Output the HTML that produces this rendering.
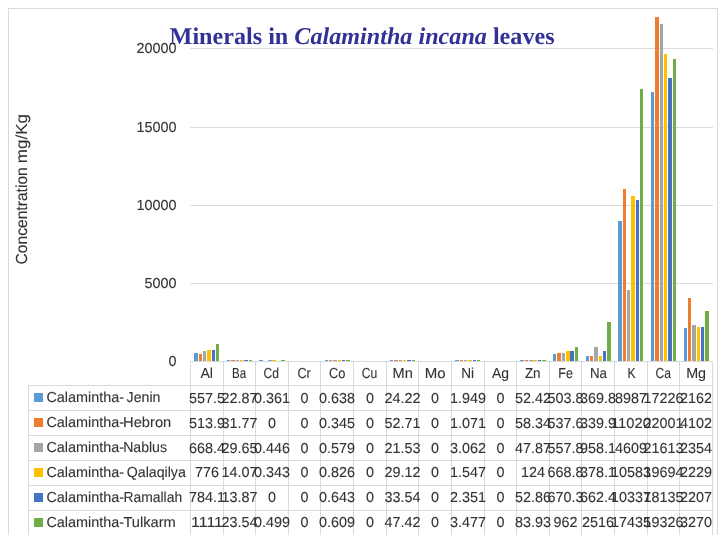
<!DOCTYPE html>
<html><head><meta charset="utf-8"><title>Minerals in Calamintha incana leaves</title>
<style>html,body{margin:0;padding:0;background:#fff;}body{width:725px;height:545px;overflow:hidden;}svg{display:block;will-change:transform;}text{font-family:"Liberation Sans",sans-serif;text-rendering:geometricPrecision;}</style>
</head><body>
<svg width="725" height="545" viewBox="0 0 725 545">
<rect x="0" y="0" width="725" height="545" fill="#fff"/>
<g shape-rendering="crispEdges">
<rect x="8" y="8" width="710" height="1" fill="#D9D9D9"/>
<rect x="8" y="8" width="1" height="527" fill="#D9D9D9"/>
<rect x="717" y="8" width="1" height="527" fill="#D9D9D9"/>
<rect x="191" y="283" width="522" height="1" fill="#D9D9D9"/>
<rect x="190" y="283" width="1" height="1" fill="#ECECEC"/>
<rect x="191" y="205" width="522" height="1" fill="#D9D9D9"/>
<rect x="190" y="205" width="1" height="1" fill="#ECECEC"/>
<rect x="191" y="127" width="522" height="1" fill="#D9D9D9"/>
<rect x="190" y="127" width="1" height="1" fill="#ECECEC"/>
<rect x="191" y="48" width="522" height="1" fill="#D9D9D9"/>
<rect x="190" y="48" width="1" height="1" fill="#ECECEC"/>
</g>
<text x="169.6" y="43.6" textLength="385" lengthAdjust="spacingAndGlyphs" style="font-family:'Liberation Serif',serif;font-weight:bold;font-size:24px" fill="#313197">Minerals in <tspan font-style="italic">Calamintha incana</tspan> leaves</text>
<text x="168.45" y="365.50" textLength="8.00" lengthAdjust="spacingAndGlyphs" font-size="14.5" fill="#333333" stroke="#333333" stroke-width="0.1">0</text>
<text x="144.45" y="287.50" textLength="32.00" lengthAdjust="spacingAndGlyphs" font-size="14.5" fill="#333333" stroke="#333333" stroke-width="0.1">5000</text>
<text x="136.45" y="209.50" textLength="40.00" lengthAdjust="spacingAndGlyphs" font-size="14.5" fill="#333333" stroke="#333333" stroke-width="0.1">10000</text>
<text x="136.45" y="131.50" textLength="40.00" lengthAdjust="spacingAndGlyphs" font-size="14.5" fill="#333333" stroke="#333333" stroke-width="0.1">15000</text>
<text x="136.45" y="52.50" textLength="40.00" lengthAdjust="spacingAndGlyphs" font-size="14.5" fill="#333333" stroke="#333333" stroke-width="0.1">20000</text>
<text transform="translate(26.5,264.5) rotate(-90)" textLength="97.3" lengthAdjust="spacingAndGlyphs" font-size="16.0" fill="#333333" stroke="#333333" stroke-width="0.1">Concentration</text>
<text transform="translate(26.5,163.3) rotate(-90)" textLength="49.3" lengthAdjust="spacingAndGlyphs" font-size="16.0" fill="#333333" stroke="#333333" stroke-width="0.1">mg/Kg</text>
<g shape-rendering="crispEdges">
<rect x="194" y="353" width="4" height="8" fill="#5B9BD5"/>
<rect x="199" y="354" width="3" height="7" fill="#ED7D31"/>
<rect x="203" y="351" width="3" height="10" fill="#A5A5A5"/>
<rect x="207" y="350" width="4" height="11" fill="#FFC000"/>
<rect x="212" y="350" width="3" height="11" fill="#4472C4"/>
<rect x="216" y="344" width="3" height="17" fill="#70AD47"/>
<rect x="227" y="360" width="3" height="1" fill="#5B9BD5"/>
<rect x="231" y="360" width="4" height="1" fill="#ED7D31"/>
<rect x="236" y="360" width="3" height="1" fill="#A5A5A5"/>
<rect x="240" y="360" width="3" height="1" fill="#FFC000"/>
<rect x="244" y="360" width="4" height="1" fill="#4472C4"/>
<rect x="249" y="360" width="3" height="1" fill="#70AD47"/>
<rect x="259" y="360" width="4" height="1" fill="#5B9BD5"/>
<rect x="268" y="360" width="4" height="1" fill="#A5A5A5"/>
<rect x="272" y="360" width="4" height="1" fill="#FFC000"/>
<rect x="281" y="360" width="4" height="1" fill="#70AD47"/>
<rect x="325" y="360" width="3" height="1" fill="#5B9BD5"/>
<rect x="329" y="360" width="3" height="1" fill="#ED7D31"/>
<rect x="333" y="360" width="4" height="1" fill="#A5A5A5"/>
<rect x="338" y="360" width="3" height="1" fill="#FFC000"/>
<rect x="342" y="360" width="3" height="1" fill="#4472C4"/>
<rect x="346" y="360" width="4" height="1" fill="#70AD47"/>
<rect x="390" y="360" width="3" height="1" fill="#5B9BD5"/>
<rect x="394" y="360" width="4" height="1" fill="#ED7D31"/>
<rect x="399" y="360" width="3" height="1" fill="#A5A5A5"/>
<rect x="403" y="360" width="3" height="1" fill="#FFC000"/>
<rect x="407" y="360" width="4" height="1" fill="#4472C4"/>
<rect x="412" y="360" width="3" height="1" fill="#70AD47"/>
<rect x="455" y="360" width="4" height="1" fill="#5B9BD5"/>
<rect x="460" y="360" width="3" height="1" fill="#ED7D31"/>
<rect x="464" y="360" width="3" height="1" fill="#A5A5A5"/>
<rect x="468" y="360" width="4" height="1" fill="#FFC000"/>
<rect x="473" y="360" width="3" height="1" fill="#4472C4"/>
<rect x="477" y="360" width="3" height="1" fill="#70AD47"/>
<rect x="520" y="360" width="4" height="1" fill="#5B9BD5"/>
<rect x="525" y="360" width="3" height="1" fill="#ED7D31"/>
<rect x="529" y="360" width="4" height="1" fill="#A5A5A5"/>
<rect x="533" y="360" width="4" height="1" fill="#FFC000"/>
<rect x="538" y="360" width="3" height="1" fill="#4472C4"/>
<rect x="542" y="360" width="4" height="1" fill="#70AD47"/>
<rect x="553" y="354" width="3" height="7" fill="#5B9BD5"/>
<rect x="557" y="353" width="4" height="8" fill="#ED7D31"/>
<rect x="562" y="353" width="3" height="8" fill="#A5A5A5"/>
<rect x="566" y="351" width="4" height="10" fill="#FFC000"/>
<rect x="570" y="351" width="4" height="10" fill="#4472C4"/>
<rect x="575" y="347" width="3" height="14" fill="#70AD47"/>
<rect x="586" y="356" width="3" height="5" fill="#5B9BD5"/>
<rect x="590" y="356" width="3" height="5" fill="#ED7D31"/>
<rect x="594" y="347" width="4" height="14" fill="#A5A5A5"/>
<rect x="599" y="356" width="3" height="5" fill="#FFC000"/>
<rect x="603" y="351" width="3" height="10" fill="#4472C4"/>
<rect x="607" y="322" width="4" height="39" fill="#70AD47"/>
<rect x="618" y="221" width="4" height="140" fill="#5B9BD5"/>
<rect x="623" y="189" width="3" height="172" fill="#ED7D31"/>
<rect x="627" y="290" width="3" height="71" fill="#A5A5A5"/>
<rect x="631" y="196" width="4" height="165" fill="#FFC000"/>
<rect x="636" y="200" width="3" height="161" fill="#4472C4"/>
<rect x="640" y="89" width="3" height="272" fill="#70AD47"/>
<rect x="651" y="92" width="3" height="269" fill="#5B9BD5"/>
<rect x="655" y="17" width="4" height="344" fill="#ED7D31"/>
<rect x="660" y="24" width="3" height="337" fill="#A5A5A5"/>
<rect x="664" y="54" width="3" height="307" fill="#FFC000"/>
<rect x="668" y="78" width="4" height="283" fill="#4472C4"/>
<rect x="673" y="59" width="3" height="302" fill="#70AD47"/>
<rect x="684" y="328" width="3" height="33" fill="#5B9BD5"/>
<rect x="688" y="298" width="3" height="63" fill="#ED7D31"/>
<rect x="692" y="325" width="4" height="36" fill="#A5A5A5"/>
<rect x="697" y="327" width="3" height="34" fill="#FFC000"/>
<rect x="701" y="327" width="3" height="34" fill="#4472C4"/>
<rect x="705" y="311" width="4" height="50" fill="#70AD47"/>
<rect x="190" y="361" width="523" height="1" fill="#D9D9D9"/>
<rect x="28" y="385" width="685" height="1" fill="#D9D9D9"/>
<rect x="28" y="410" width="685" height="1" fill="#D9D9D9"/>
<rect x="28" y="435" width="685" height="1" fill="#D9D9D9"/>
<rect x="28" y="460" width="685" height="1" fill="#D9D9D9"/>
<rect x="28" y="485" width="685" height="1" fill="#D9D9D9"/>
<rect x="28" y="510" width="685" height="1" fill="#D9D9D9"/>
<rect x="28" y="385" width="1" height="150" fill="#D9D9D9"/>
<rect x="190" y="361" width="1" height="174" fill="#D9D9D9"/>
<rect x="223" y="361" width="1" height="174" fill="#D9D9D9"/>
<rect x="255" y="361" width="1" height="174" fill="#D9D9D9"/>
<rect x="288" y="361" width="1" height="174" fill="#D9D9D9"/>
<rect x="320" y="361" width="1" height="174" fill="#D9D9D9"/>
<rect x="353" y="361" width="1" height="174" fill="#D9D9D9"/>
<rect x="386" y="361" width="1" height="174" fill="#D9D9D9"/>
<rect x="418" y="361" width="1" height="174" fill="#D9D9D9"/>
<rect x="451" y="361" width="1" height="174" fill="#D9D9D9"/>
<rect x="484" y="361" width="1" height="174" fill="#D9D9D9"/>
<rect x="516" y="361" width="1" height="174" fill="#D9D9D9"/>
<rect x="549" y="361" width="1" height="174" fill="#D9D9D9"/>
<rect x="581" y="361" width="1" height="174" fill="#D9D9D9"/>
<rect x="614" y="361" width="1" height="174" fill="#D9D9D9"/>
<rect x="647" y="361" width="1" height="174" fill="#D9D9D9"/>
<rect x="679" y="361" width="1" height="174" fill="#D9D9D9"/>
<rect x="712" y="361" width="1" height="174" fill="#D9D9D9"/>
<rect x="34" y="393" width="9" height="9" fill="#5B9BD5"/>
<rect x="34" y="418" width="9" height="9" fill="#ED7D31"/>
<rect x="34" y="443" width="9" height="9" fill="#A5A5A5"/>
<rect x="34" y="468" width="9" height="9" fill="#FFC000"/>
<rect x="34" y="493" width="9" height="9" fill="#4472C4"/>
<rect x="34" y="518" width="9" height="9" fill="#70AD47"/>
</g>
<text x="200.40" y="377.85" textLength="12.60" lengthAdjust="spacingAndGlyphs" font-size="14.5" fill="#333333" stroke="#333333" stroke-width="0.1">Al</text>
<text x="232.10" y="377.85" textLength="14.10" lengthAdjust="spacingAndGlyphs" font-size="14.5" fill="#333333" stroke="#333333" stroke-width="0.1">Ba</text>
<text x="263.55" y="377.85" textLength="15.50" lengthAdjust="spacingAndGlyphs" font-size="14.5" fill="#333333" stroke="#333333" stroke-width="0.1">Cd</text>
<text x="297.40" y="377.85" textLength="13.50" lengthAdjust="spacingAndGlyphs" font-size="14.5" fill="#333333" stroke="#333333" stroke-width="0.1">Cr</text>
<text x="328.90" y="377.85" textLength="16.40" lengthAdjust="spacingAndGlyphs" font-size="14.5" fill="#333333" stroke="#333333" stroke-width="0.1">Co</text>
<text x="361.70" y="377.85" textLength="15.50" lengthAdjust="spacingAndGlyphs" font-size="14.5" fill="#333333" stroke="#333333" stroke-width="0.1">Cu</text>
<text x="392.60" y="377.85" textLength="20.30" lengthAdjust="spacingAndGlyphs" font-size="14.5" fill="#333333" stroke="#333333" stroke-width="0.1">Mn</text>
<text x="424.80" y="377.85" textLength="20.90" lengthAdjust="spacingAndGlyphs" font-size="14.5" fill="#333333" stroke="#333333" stroke-width="0.1">Mo</text>
<text x="461.20" y="377.85" textLength="12.80" lengthAdjust="spacingAndGlyphs" font-size="14.5" fill="#333333" stroke="#333333" stroke-width="0.1">Ni</text>
<text x="492.10" y="377.85" textLength="17.00" lengthAdjust="spacingAndGlyphs" font-size="14.5" fill="#333333" stroke="#333333" stroke-width="0.1">Ag</text>
<text x="524.90" y="377.85" textLength="15.70" lengthAdjust="spacingAndGlyphs" font-size="14.5" fill="#333333" stroke="#333333" stroke-width="0.1">Zn</text>
<text x="558.30" y="377.85" textLength="14.50" lengthAdjust="spacingAndGlyphs" font-size="14.5" fill="#333333" stroke="#333333" stroke-width="0.1">Fe</text>
<text x="589.90" y="377.85" textLength="17.00" lengthAdjust="spacingAndGlyphs" font-size="14.5" fill="#333333" stroke="#333333" stroke-width="0.1">Na</text>
<text x="627.50" y="377.85" textLength="8.10" lengthAdjust="spacingAndGlyphs" font-size="14.5" fill="#333333" stroke="#333333" stroke-width="0.1">K</text>
<text x="655.50" y="377.85" textLength="15.50" lengthAdjust="spacingAndGlyphs" font-size="14.5" fill="#333333" stroke="#333333" stroke-width="0.1">Ca</text>
<text x="686.20" y="377.85" textLength="19.90" lengthAdjust="spacingAndGlyphs" font-size="14.5" fill="#333333" stroke="#333333" stroke-width="0.1">Mg</text>
<text x="46.41" y="402.10" textLength="77.56" lengthAdjust="spacingAndGlyphs" font-size="14.5" fill="#333333" stroke="#333333" stroke-width="0.1">Calamintha-</text>
<text x="126.60" y="402.10" textLength="33.83" lengthAdjust="spacingAndGlyphs" font-size="14.5" fill="#333333" stroke="#333333" stroke-width="0.1">Jenin</text>
<text x="189.00" y="402.90" textLength="36.00" lengthAdjust="spacingAndGlyphs" font-size="14.5" fill="#333333" stroke="#333333" stroke-width="0.1">557.5</text>
<text x="221.50" y="402.90" textLength="36.00" lengthAdjust="spacingAndGlyphs" font-size="14.5" fill="#333333" stroke="#333333" stroke-width="0.1">22.87</text>
<text x="254.00" y="402.90" textLength="36.00" lengthAdjust="spacingAndGlyphs" font-size="14.5" fill="#333333" stroke="#333333" stroke-width="0.1">0.361</text>
<text x="300.50" y="402.90" textLength="8.00" lengthAdjust="spacingAndGlyphs" font-size="14.5" fill="#333333" stroke="#333333" stroke-width="0.1">0</text>
<text x="319.00" y="402.90" textLength="36.00" lengthAdjust="spacingAndGlyphs" font-size="14.5" fill="#333333" stroke="#333333" stroke-width="0.1">0.638</text>
<text x="366.00" y="402.90" textLength="8.00" lengthAdjust="spacingAndGlyphs" font-size="14.5" fill="#333333" stroke="#333333" stroke-width="0.1">0</text>
<text x="384.50" y="402.90" textLength="36.00" lengthAdjust="spacingAndGlyphs" font-size="14.5" fill="#333333" stroke="#333333" stroke-width="0.1">24.22</text>
<text x="431.00" y="402.90" textLength="8.00" lengthAdjust="spacingAndGlyphs" font-size="14.5" fill="#333333" stroke="#333333" stroke-width="0.1">0</text>
<text x="450.00" y="402.90" textLength="36.00" lengthAdjust="spacingAndGlyphs" font-size="14.5" fill="#333333" stroke="#333333" stroke-width="0.1">1.949</text>
<text x="496.50" y="402.90" textLength="8.00" lengthAdjust="spacingAndGlyphs" font-size="14.5" fill="#333333" stroke="#333333" stroke-width="0.1">0</text>
<text x="515.00" y="402.90" textLength="36.00" lengthAdjust="spacingAndGlyphs" font-size="14.5" fill="#333333" stroke="#333333" stroke-width="0.1">52.42</text>
<text x="547.50" y="402.90" textLength="36.00" lengthAdjust="spacingAndGlyphs" font-size="14.5" fill="#333333" stroke="#333333" stroke-width="0.1">503.8</text>
<text x="580.00" y="402.90" textLength="36.00" lengthAdjust="spacingAndGlyphs" font-size="14.5" fill="#333333" stroke="#333333" stroke-width="0.1">369.8</text>
<text x="615.00" y="402.90" textLength="32.00" lengthAdjust="spacingAndGlyphs" font-size="14.5" fill="#333333" stroke="#333333" stroke-width="0.1">8987</text>
<text x="643.50" y="402.90" textLength="40.00" lengthAdjust="spacingAndGlyphs" font-size="14.5" fill="#333333" stroke="#333333" stroke-width="0.1">17226</text>
<text x="680.00" y="402.90" textLength="32.00" lengthAdjust="spacingAndGlyphs" font-size="14.5" fill="#333333" stroke="#333333" stroke-width="0.1">2162</text>
<text x="46.41" y="427.02" textLength="77.56" lengthAdjust="spacingAndGlyphs" font-size="14.5" fill="#333333" stroke="#333333" stroke-width="0.1">Calamintha-</text>
<text x="123.08" y="427.02" textLength="48.19" lengthAdjust="spacingAndGlyphs" font-size="14.5" fill="#333333" stroke="#333333" stroke-width="0.1">Hebron</text>
<text x="189.00" y="427.72" textLength="36.00" lengthAdjust="spacingAndGlyphs" font-size="14.5" fill="#333333" stroke="#333333" stroke-width="0.1">513.9</text>
<text x="221.50" y="427.72" textLength="36.00" lengthAdjust="spacingAndGlyphs" font-size="14.5" fill="#333333" stroke="#333333" stroke-width="0.1">31.77</text>
<text x="268.00" y="427.72" textLength="8.00" lengthAdjust="spacingAndGlyphs" font-size="14.5" fill="#333333" stroke="#333333" stroke-width="0.1">0</text>
<text x="300.50" y="427.72" textLength="8.00" lengthAdjust="spacingAndGlyphs" font-size="14.5" fill="#333333" stroke="#333333" stroke-width="0.1">0</text>
<text x="319.00" y="427.72" textLength="36.00" lengthAdjust="spacingAndGlyphs" font-size="14.5" fill="#333333" stroke="#333333" stroke-width="0.1">0.345</text>
<text x="366.00" y="427.72" textLength="8.00" lengthAdjust="spacingAndGlyphs" font-size="14.5" fill="#333333" stroke="#333333" stroke-width="0.1">0</text>
<text x="384.50" y="427.72" textLength="36.00" lengthAdjust="spacingAndGlyphs" font-size="14.5" fill="#333333" stroke="#333333" stroke-width="0.1">52.71</text>
<text x="431.00" y="427.72" textLength="8.00" lengthAdjust="spacingAndGlyphs" font-size="14.5" fill="#333333" stroke="#333333" stroke-width="0.1">0</text>
<text x="450.00" y="427.72" textLength="36.00" lengthAdjust="spacingAndGlyphs" font-size="14.5" fill="#333333" stroke="#333333" stroke-width="0.1">1.071</text>
<text x="496.50" y="427.72" textLength="8.00" lengthAdjust="spacingAndGlyphs" font-size="14.5" fill="#333333" stroke="#333333" stroke-width="0.1">0</text>
<text x="515.00" y="427.72" textLength="36.00" lengthAdjust="spacingAndGlyphs" font-size="14.5" fill="#333333" stroke="#333333" stroke-width="0.1">58.34</text>
<text x="547.50" y="427.72" textLength="36.00" lengthAdjust="spacingAndGlyphs" font-size="14.5" fill="#333333" stroke="#333333" stroke-width="0.1">537.6</text>
<text x="580.00" y="427.72" textLength="36.00" lengthAdjust="spacingAndGlyphs" font-size="14.5" fill="#333333" stroke="#333333" stroke-width="0.1">339.9</text>
<text x="611.00" y="427.72" textLength="40.00" lengthAdjust="spacingAndGlyphs" font-size="14.5" fill="#333333" stroke="#333333" stroke-width="0.1">11020</text>
<text x="643.50" y="427.72" textLength="40.00" lengthAdjust="spacingAndGlyphs" font-size="14.5" fill="#333333" stroke="#333333" stroke-width="0.1">22001</text>
<text x="680.00" y="427.72" textLength="32.00" lengthAdjust="spacingAndGlyphs" font-size="14.5" fill="#333333" stroke="#333333" stroke-width="0.1">4102</text>
<text x="46.41" y="451.94" textLength="77.56" lengthAdjust="spacingAndGlyphs" font-size="14.5" fill="#333333" stroke="#333333" stroke-width="0.1">Calamintha-</text>
<text x="123.13" y="451.94" textLength="43.89" lengthAdjust="spacingAndGlyphs" font-size="14.5" fill="#333333" stroke="#333333" stroke-width="0.1">Nablus</text>
<text x="189.00" y="452.54" textLength="36.00" lengthAdjust="spacingAndGlyphs" font-size="14.5" fill="#333333" stroke="#333333" stroke-width="0.1">668.4</text>
<text x="221.50" y="452.54" textLength="36.00" lengthAdjust="spacingAndGlyphs" font-size="14.5" fill="#333333" stroke="#333333" stroke-width="0.1">29.65</text>
<text x="254.00" y="452.54" textLength="36.00" lengthAdjust="spacingAndGlyphs" font-size="14.5" fill="#333333" stroke="#333333" stroke-width="0.1">0.446</text>
<text x="300.50" y="452.54" textLength="8.00" lengthAdjust="spacingAndGlyphs" font-size="14.5" fill="#333333" stroke="#333333" stroke-width="0.1">0</text>
<text x="319.00" y="452.54" textLength="36.00" lengthAdjust="spacingAndGlyphs" font-size="14.5" fill="#333333" stroke="#333333" stroke-width="0.1">0.579</text>
<text x="366.00" y="452.54" textLength="8.00" lengthAdjust="spacingAndGlyphs" font-size="14.5" fill="#333333" stroke="#333333" stroke-width="0.1">0</text>
<text x="384.50" y="452.54" textLength="36.00" lengthAdjust="spacingAndGlyphs" font-size="14.5" fill="#333333" stroke="#333333" stroke-width="0.1">21.53</text>
<text x="431.00" y="452.54" textLength="8.00" lengthAdjust="spacingAndGlyphs" font-size="14.5" fill="#333333" stroke="#333333" stroke-width="0.1">0</text>
<text x="450.00" y="452.54" textLength="36.00" lengthAdjust="spacingAndGlyphs" font-size="14.5" fill="#333333" stroke="#333333" stroke-width="0.1">3.062</text>
<text x="496.50" y="452.54" textLength="8.00" lengthAdjust="spacingAndGlyphs" font-size="14.5" fill="#333333" stroke="#333333" stroke-width="0.1">0</text>
<text x="515.00" y="452.54" textLength="36.00" lengthAdjust="spacingAndGlyphs" font-size="14.5" fill="#333333" stroke="#333333" stroke-width="0.1">47.87</text>
<text x="547.50" y="452.54" textLength="36.00" lengthAdjust="spacingAndGlyphs" font-size="14.5" fill="#333333" stroke="#333333" stroke-width="0.1">557.8</text>
<text x="580.00" y="452.54" textLength="36.00" lengthAdjust="spacingAndGlyphs" font-size="14.5" fill="#333333" stroke="#333333" stroke-width="0.1">958.1</text>
<text x="615.00" y="452.54" textLength="32.00" lengthAdjust="spacingAndGlyphs" font-size="14.5" fill="#333333" stroke="#333333" stroke-width="0.1">4609</text>
<text x="643.50" y="452.54" textLength="40.00" lengthAdjust="spacingAndGlyphs" font-size="14.5" fill="#333333" stroke="#333333" stroke-width="0.1">21613</text>
<text x="680.00" y="452.54" textLength="32.00" lengthAdjust="spacingAndGlyphs" font-size="14.5" fill="#333333" stroke="#333333" stroke-width="0.1">2354</text>
<text x="46.41" y="476.86" textLength="77.56" lengthAdjust="spacingAndGlyphs" font-size="14.5" fill="#333333" stroke="#333333" stroke-width="0.1">Calamintha-</text>
<text x="126.72" y="476.86" textLength="59.13" lengthAdjust="spacingAndGlyphs" font-size="14.5" fill="#333333" stroke="#333333" stroke-width="0.1">Qalaqilya</text>
<text x="195.00" y="477.36" textLength="24.00" lengthAdjust="spacingAndGlyphs" font-size="14.5" fill="#333333" stroke="#333333" stroke-width="0.1">776</text>
<text x="221.50" y="477.36" textLength="36.00" lengthAdjust="spacingAndGlyphs" font-size="14.5" fill="#333333" stroke="#333333" stroke-width="0.1">14.07</text>
<text x="254.00" y="477.36" textLength="36.00" lengthAdjust="spacingAndGlyphs" font-size="14.5" fill="#333333" stroke="#333333" stroke-width="0.1">0.343</text>
<text x="300.50" y="477.36" textLength="8.00" lengthAdjust="spacingAndGlyphs" font-size="14.5" fill="#333333" stroke="#333333" stroke-width="0.1">0</text>
<text x="319.00" y="477.36" textLength="36.00" lengthAdjust="spacingAndGlyphs" font-size="14.5" fill="#333333" stroke="#333333" stroke-width="0.1">0.826</text>
<text x="366.00" y="477.36" textLength="8.00" lengthAdjust="spacingAndGlyphs" font-size="14.5" fill="#333333" stroke="#333333" stroke-width="0.1">0</text>
<text x="384.50" y="477.36" textLength="36.00" lengthAdjust="spacingAndGlyphs" font-size="14.5" fill="#333333" stroke="#333333" stroke-width="0.1">29.12</text>
<text x="431.00" y="477.36" textLength="8.00" lengthAdjust="spacingAndGlyphs" font-size="14.5" fill="#333333" stroke="#333333" stroke-width="0.1">0</text>
<text x="450.00" y="477.36" textLength="36.00" lengthAdjust="spacingAndGlyphs" font-size="14.5" fill="#333333" stroke="#333333" stroke-width="0.1">1.547</text>
<text x="496.50" y="477.36" textLength="8.00" lengthAdjust="spacingAndGlyphs" font-size="14.5" fill="#333333" stroke="#333333" stroke-width="0.1">0</text>
<text x="521.00" y="477.36" textLength="24.00" lengthAdjust="spacingAndGlyphs" font-size="14.5" fill="#333333" stroke="#333333" stroke-width="0.1">124</text>
<text x="547.50" y="477.36" textLength="36.00" lengthAdjust="spacingAndGlyphs" font-size="14.5" fill="#333333" stroke="#333333" stroke-width="0.1">668.8</text>
<text x="580.00" y="477.36" textLength="36.00" lengthAdjust="spacingAndGlyphs" font-size="14.5" fill="#333333" stroke="#333333" stroke-width="0.1">378.1</text>
<text x="611.00" y="477.36" textLength="40.00" lengthAdjust="spacingAndGlyphs" font-size="14.5" fill="#333333" stroke="#333333" stroke-width="0.1">10583</text>
<text x="643.50" y="477.36" textLength="40.00" lengthAdjust="spacingAndGlyphs" font-size="14.5" fill="#333333" stroke="#333333" stroke-width="0.1">19694</text>
<text x="680.00" y="477.36" textLength="32.00" lengthAdjust="spacingAndGlyphs" font-size="14.5" fill="#333333" stroke="#333333" stroke-width="0.1">2229</text>
<text x="46.41" y="501.78" textLength="77.56" lengthAdjust="spacingAndGlyphs" font-size="14.5" fill="#333333" stroke="#333333" stroke-width="0.1">Calamintha-</text>
<text x="123.55" y="501.78" textLength="58.56" lengthAdjust="spacingAndGlyphs" font-size="14.5" fill="#333333" stroke="#333333" stroke-width="0.1">Ramallah</text>
<text x="189.00" y="502.18" textLength="36.00" lengthAdjust="spacingAndGlyphs" font-size="14.5" fill="#333333" stroke="#333333" stroke-width="0.1">784.1</text>
<text x="221.50" y="502.18" textLength="36.00" lengthAdjust="spacingAndGlyphs" font-size="14.5" fill="#333333" stroke="#333333" stroke-width="0.1">13.87</text>
<text x="268.00" y="502.18" textLength="8.00" lengthAdjust="spacingAndGlyphs" font-size="14.5" fill="#333333" stroke="#333333" stroke-width="0.1">0</text>
<text x="300.50" y="502.18" textLength="8.00" lengthAdjust="spacingAndGlyphs" font-size="14.5" fill="#333333" stroke="#333333" stroke-width="0.1">0</text>
<text x="319.00" y="502.18" textLength="36.00" lengthAdjust="spacingAndGlyphs" font-size="14.5" fill="#333333" stroke="#333333" stroke-width="0.1">0.643</text>
<text x="366.00" y="502.18" textLength="8.00" lengthAdjust="spacingAndGlyphs" font-size="14.5" fill="#333333" stroke="#333333" stroke-width="0.1">0</text>
<text x="384.50" y="502.18" textLength="36.00" lengthAdjust="spacingAndGlyphs" font-size="14.5" fill="#333333" stroke="#333333" stroke-width="0.1">33.54</text>
<text x="431.00" y="502.18" textLength="8.00" lengthAdjust="spacingAndGlyphs" font-size="14.5" fill="#333333" stroke="#333333" stroke-width="0.1">0</text>
<text x="450.00" y="502.18" textLength="36.00" lengthAdjust="spacingAndGlyphs" font-size="14.5" fill="#333333" stroke="#333333" stroke-width="0.1">2.351</text>
<text x="496.50" y="502.18" textLength="8.00" lengthAdjust="spacingAndGlyphs" font-size="14.5" fill="#333333" stroke="#333333" stroke-width="0.1">0</text>
<text x="515.00" y="502.18" textLength="36.00" lengthAdjust="spacingAndGlyphs" font-size="14.5" fill="#333333" stroke="#333333" stroke-width="0.1">52.86</text>
<text x="547.50" y="502.18" textLength="36.00" lengthAdjust="spacingAndGlyphs" font-size="14.5" fill="#333333" stroke="#333333" stroke-width="0.1">670.3</text>
<text x="580.00" y="502.18" textLength="36.00" lengthAdjust="spacingAndGlyphs" font-size="14.5" fill="#333333" stroke="#333333" stroke-width="0.1">662.4</text>
<text x="611.00" y="502.18" textLength="40.00" lengthAdjust="spacingAndGlyphs" font-size="14.5" fill="#333333" stroke="#333333" stroke-width="0.1">10337</text>
<text x="643.50" y="502.18" textLength="40.00" lengthAdjust="spacingAndGlyphs" font-size="14.5" fill="#333333" stroke="#333333" stroke-width="0.1">18135</text>
<text x="680.00" y="502.18" textLength="32.00" lengthAdjust="spacingAndGlyphs" font-size="14.5" fill="#333333" stroke="#333333" stroke-width="0.1">2207</text>
<text x="46.41" y="526.70" textLength="77.56" lengthAdjust="spacingAndGlyphs" font-size="14.5" fill="#333333" stroke="#333333" stroke-width="0.1">Calamintha-</text>
<text x="123.40" y="526.70" textLength="52.34" lengthAdjust="spacingAndGlyphs" font-size="14.5" fill="#333333" stroke="#333333" stroke-width="0.1">Tulkarm</text>
<text x="191.00" y="527.00" textLength="32.00" lengthAdjust="spacingAndGlyphs" font-size="14.5" fill="#333333" stroke="#333333" stroke-width="0.1">1111</text>
<text x="221.50" y="527.00" textLength="36.00" lengthAdjust="spacingAndGlyphs" font-size="14.5" fill="#333333" stroke="#333333" stroke-width="0.1">23.54</text>
<text x="254.00" y="527.00" textLength="36.00" lengthAdjust="spacingAndGlyphs" font-size="14.5" fill="#333333" stroke="#333333" stroke-width="0.1">0.499</text>
<text x="300.50" y="527.00" textLength="8.00" lengthAdjust="spacingAndGlyphs" font-size="14.5" fill="#333333" stroke="#333333" stroke-width="0.1">0</text>
<text x="319.00" y="527.00" textLength="36.00" lengthAdjust="spacingAndGlyphs" font-size="14.5" fill="#333333" stroke="#333333" stroke-width="0.1">0.609</text>
<text x="366.00" y="527.00" textLength="8.00" lengthAdjust="spacingAndGlyphs" font-size="14.5" fill="#333333" stroke="#333333" stroke-width="0.1">0</text>
<text x="384.50" y="527.00" textLength="36.00" lengthAdjust="spacingAndGlyphs" font-size="14.5" fill="#333333" stroke="#333333" stroke-width="0.1">47.42</text>
<text x="431.00" y="527.00" textLength="8.00" lengthAdjust="spacingAndGlyphs" font-size="14.5" fill="#333333" stroke="#333333" stroke-width="0.1">0</text>
<text x="450.00" y="527.00" textLength="36.00" lengthAdjust="spacingAndGlyphs" font-size="14.5" fill="#333333" stroke="#333333" stroke-width="0.1">3.477</text>
<text x="496.50" y="527.00" textLength="8.00" lengthAdjust="spacingAndGlyphs" font-size="14.5" fill="#333333" stroke="#333333" stroke-width="0.1">0</text>
<text x="515.00" y="527.00" textLength="36.00" lengthAdjust="spacingAndGlyphs" font-size="14.5" fill="#333333" stroke="#333333" stroke-width="0.1">83.93</text>
<text x="553.50" y="527.00" textLength="24.00" lengthAdjust="spacingAndGlyphs" font-size="14.5" fill="#333333" stroke="#333333" stroke-width="0.1">962</text>
<text x="582.00" y="527.00" textLength="32.00" lengthAdjust="spacingAndGlyphs" font-size="14.5" fill="#333333" stroke="#333333" stroke-width="0.1">2516</text>
<text x="611.00" y="527.00" textLength="40.00" lengthAdjust="spacingAndGlyphs" font-size="14.5" fill="#333333" stroke="#333333" stroke-width="0.1">17435</text>
<text x="643.50" y="527.00" textLength="40.00" lengthAdjust="spacingAndGlyphs" font-size="14.5" fill="#333333" stroke="#333333" stroke-width="0.1">19326</text>
<text x="680.00" y="527.00" textLength="32.00" lengthAdjust="spacingAndGlyphs" font-size="14.5" fill="#333333" stroke="#333333" stroke-width="0.1">3270</text>
</svg></body></html>
